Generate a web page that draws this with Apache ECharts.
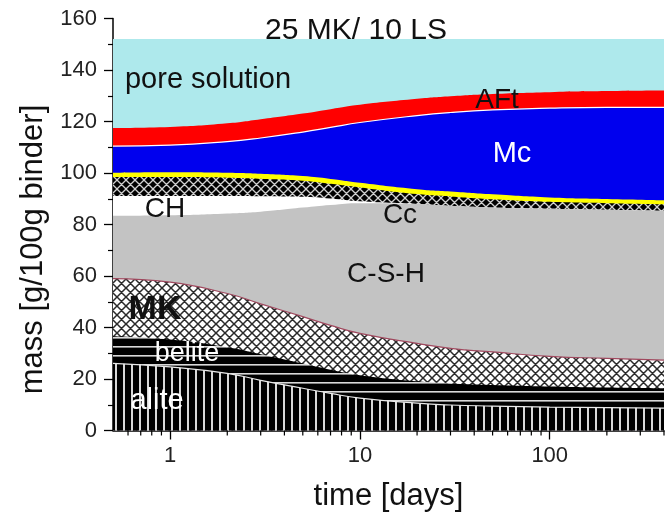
<!DOCTYPE html>
<html><head><meta charset="utf-8">
<script src="https://cdn.jsdelivr.net/npm/echarts@6/dist/echarts.min.js"></script>
<style>html,body{margin:0;padding:0;background:#fff}#c{width:667px;height:520px}</style>
</head><body><div id="c"></div>
<script>
// time in days (log axis)
const days   = [0.5, 1, 2, 3, 5, 7, 10, 20, 30, 50, 100, 200, 400];
// phase masses [g/100g binder], bottom to top
const alite  = [26.1, 24.7, 22.2, 19.5, 16.4, 14.4, 12.6, 10.6, 9.9, 9.5, 9.1, 8.9, 8.7];
const belite = [10.5, 10.6, 10.1, 10.1, 9.6, 9.2, 8.9, 8.5, 8.4, 8.2, 8.0, 7.8, 7.7];
const mk     = [22.4, 22.3, 20.9, 19.6, 18.2, 17.2, 16.2, 14.7, 13.6, 12.8, 11.7, 11.3, 10.9];
const csh    = [24.4, 26.0, 31.1, 35.8, 42.4, 46.8, 50.6, 54.2, 55.4, 56.1, 57.3, 57.7, 58.0];
const ch     = [7.7, 7.5, 6.8, 6.0, 4.2, 2.5, 0.7, 0, 0, 0, 0, 0, 0];
const cc     = [7.3, 7.3, 7.1, 6.8, 6.2, 5.7, 5.4, 3.8, 3.6, 3.2, 2.7, 2.6, 2.6];
const yellowPhase = [1.7, 1.9, 1.9, 1.9, 1.8, 1.9, 1.8, 1.9, 1.9, 1.9, 1.7, 1.6, 1.5];
const mc     = [10.3, 10.5, 12.1, 13.9, 17.1, 20.0, 23.4, 28.6, 30.7, 32.8, 34.7, 35.6, 36.1];
const aft    = [7.1, 7.1, 7.1, 7.3, 7.2, 7.1, 6.9, 6.5, 6.3, 6.2, 6.2, 6.3, 6.5];
const pore   = [34.5, 34.1, 32.7, 31.1, 28.9, 27.2, 25.5, 23.2, 22.2, 21.3, 20.6, 20.2, 20.0];
const yTicks = [0, 20, 40, 60, 80, 100, 120, 140, 160];
const xMinorTicks = [0.6,0.7,0.8,0.9,2,3,4,5,6,7,8,9,20,30,40,50,60,70,80,90,200,300,400];

function pat(size, draw){
  const c = document.createElement('canvas'); c.width = size; c.height = size;
  const g = c.getContext('2d'); draw(g, size);
  return { image: c, repeat: 'repeat' };
}
function cross(g, s, bg, fg, w){
  g.fillStyle = bg; g.fillRect(0,0,s,s);
  g.strokeStyle = fg; g.lineWidth = w; g.beginPath();
  for (const k of [-s, 0, s]) { g.moveTo(k,0); g.lineTo(k+s,s); g.moveTo(k+s,0); g.lineTo(k,s); }
  g.stroke();
}
const aliteFill  = pat(8, (g,s)=>{ g.fillStyle='#000'; g.fillRect(0,0,s,s); g.fillStyle='#d9d9d9'; g.fillRect(3,0,2,s); });
const beliteFill = pat(9, (g,s)=>{ g.fillStyle='#000'; g.fillRect(0,0,s,s); g.fillStyle='#d9d9d9'; g.fillRect(0,4,s,1.6); });
const mkFill     = pat(9, (g,s)=>cross(g,s,'#ffffff','#2a2a2a',1.5));
const ccFill     = pat(9, (g,s)=>cross(g,s,'#000000','#d0d0d0',1.3));

const layers = [
  { name:'alite', v:alite, fill:aliteFill, line:{width:1.2,color:'#e8e8e8'} },
  { name:'belite', v:belite, fill:beliteFill, line:{width:0} },
  { name:'MK', v:mk, fill:mkFill, line:{width:1.2,color:'#a0485e'} },
  { name:'C-S-H', v:csh, fill:'#c3c3c3', line:{width:0} },
  { name:'CH', v:ch, fill:'#ffffff', line:{width:0} },
  { name:'Cc', v:cc, fill:ccFill, line:{width:0} },
  { name:'yellow', v:yellowPhase, fill:'#ffff00', line:{width:0} },
  { name:'Mc', v:mc, fill:'#0000ee', line:{width:1.2,color:'#ffffff'} },
  { name:'AFt', v:aft, fill:'#ff0000', line:{width:0} },
  { name:'pore solution', v:pore, fill:'#aee9ec', line:{width:0} }
];
const cum = [];
layers.forEach((L,i)=>{ cum.push(L.v.map((v,j)=> v + (i ? cum[i-1][j] : 0))); });

const series = [];
for (let i = layers.length-1; i >= 0; i--) {
  const L = layers[i];
  series.push({
    name: L.name, type:'line', silent:true, showSymbol:false, smooth:0.5,
    data: days.map((d,j)=>[d, +cum[i][j].toFixed(2)]),
    areaStyle: { color: L.fill, opacity: 1 },
    lineStyle: L.line.width ? { width:L.line.width, color:L.line.color } : { width:0, opacity:0 },
    z: 2
  });
}
series.push({
  type:'custom', silent:true, clip:false, z:5,
  data: xMinorTicks.map(v=>[v,0]),
  renderItem:(params, api)=>{
    const p = api.coord([api.value(0), 0]);
    return { type:'line', shape:{x1:p[0], y1:p[1], x2:p[0], y2:p[1]+5}, style:{stroke:'#000', lineWidth:1.2} };
  }
});

const F = '"Liberation Sans", Arial, sans-serif';
function txt(t, x, y, size, color, weight){
  return { type:'text', x:x, y:y, z:100, silent:true,
    style:{ text:t, font:(weight||'normal')+' '+size+'px '+F, fill:color, align:'center', verticalAlign:'middle' } };
}

const chart = echarts.init(document.getElementById('c'), null, {renderer:'canvas'});
chart.setOption({
  animation:false,
  backgroundColor:'#fff',
  grid:{ left:113, right:3, top:18.5, bottom:89.5 },
  xAxis:{
    type:'log', logBase:10, min:0.5, max:400,
    name:'time [days]', nameLocation:'middle', nameGap:50,
    nameTextStyle:{ fontFamily:F, fontSize:31, color:'#111' },
    axisLine:{ lineStyle:{ color:'#000', width:1.5 } },
    axisTick:{ show:true, inside:false, length:9, lineStyle:{ color:'#000', width:1.3 } },
    axisLabel:{ fontFamily:F, fontSize:22, color:'#222', margin:14, showMinLabel:false, showMaxLabel:false },
    splitLine:{ show:false }
  },
  yAxis:{
    type:'value', min:yTicks[0], max:yTicks[yTicks.length-1], interval:20,
    name:'mass [g/100g binder]', nameLocation:'middle', nameGap:64, nameRotate:90,
    nameTextStyle:{ fontFamily:F, fontSize:31, color:'#111', padding:[0,50,0,0] },
    axisLine:{ show:true, lineStyle:{ color:'#000', width:1.5 } },
    axisTick:{ show:true, inside:false, length:9, lineStyle:{ color:'#000', width:1.3 } },
    minorTick:{ show:true, splitNumber:2, length:5, lineStyle:{ color:'#000', width:1.2 } },
    axisLabel:{ fontFamily:F, fontSize:22, color:'#222', margin:16 },
    splitLine:{ show:false }
  },
  series: series,
  graphic: [
    txt('25 MK/ 10 LS', 356, 31, 30, '#111'),
    txt('pore solution', 208, 80, 29, '#111'),
    txt('AFt', 497, 100, 28, '#111'),
    txt('Mc', 512, 154, 29, '#ffffff'),
    txt('CH', 165, 209, 28, '#111'),
    txt('Cc', 400, 215, 28, '#111'),
    txt('C-S-H', 386, 274, 28, '#111'),
    txt('MK', 155, 310, 34, '#111', 'bold'),
    txt('belite', 187, 354, 27, '#ffffff'),
    txt('alite', 157, 401, 29, '#ffffff')
  ]
});
</script>
</body></html>
